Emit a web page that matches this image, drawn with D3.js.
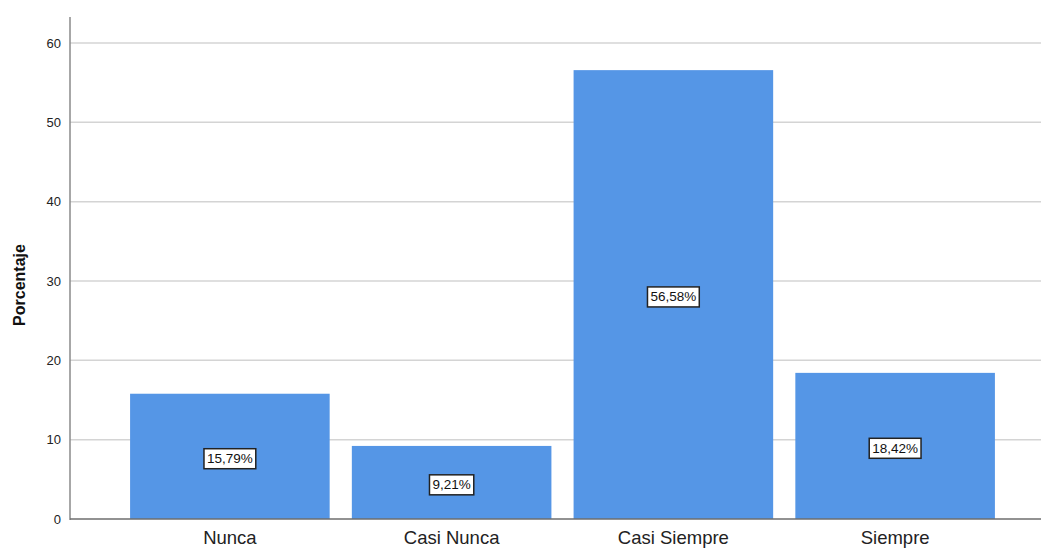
<!DOCTYPE html>
<html>
<head>
<meta charset="utf-8">
<script src="https://cdn.jsdelivr.net/npm/d3@7"></script>
<style>
  html, body { margin: 0; padding: 0; background: #fff; }
  svg { display: block; font-family: "Liberation Sans", Arial, sans-serif; }
</style>
</head>
<body>
<svg id="chart" width="1041" height="550"></svg>
<script>
// Frequency distribution (percent) by response category
const categories = ["Nunca", "Casi Nunca", "Casi Siempre", "Siempre"];
const percentages = [15.79, 9.21, 56.58, 18.42];
const yTicks = [0, 10, 20, 30, 40, 50, 60];

const svg = d3.select("#chart");
const axisX = 70, plotRight = 1041, plotTop = 17, baseY = 519;

const y = d3.scaleLinear().domain([0, 60]).range([baseY, 43]);
const x = d3.scaleBand().domain(categories).range([119, 1006])
  .paddingInner(0.1).paddingOuter(0.05);

// Horizontal gridlines
svg.append("g").selectAll("line").data(yTicks.filter(d => d > 0)).join("line")
  .attr("x1", axisX).attr("x2", plotRight)
  .attr("y1", d => y(d)).attr("y2", d => y(d))
  .attr("stroke", "#d4d4d4").attr("stroke-width", 1.5);

// Bars
svg.append("g").selectAll("rect").data(percentages).join("rect")
  .attr("x", (d, i) => x(categories[i]))
  .attr("width", x.bandwidth())
  .attr("y", d => y(d))
  .attr("height", d => baseY - y(d))
  .attr("fill", "#5596e6");

// Y axis
const yAxis = d3.axisLeft(y).tickValues(yTicks).tickSize(0).tickPadding(9);
const gy = svg.append("g").attr("transform", `translate(${axisX},0)`).call(yAxis);
gy.select(".domain").remove();
gy.selectAll("text").attr("font-size", 13).attr("fill", "#222")
  .attr("font-family", "Liberation Sans, Arial, sans-serif");
svg.append("line").attr("x1", axisX).attr("x2", axisX)
  .attr("y1", plotTop).attr("y2", baseY + 1)
  .attr("stroke", "#8a8a8a").attr("stroke-width", 1.5);

// X axis
const xAxis = d3.axisBottom(x).tickSize(0).tickPadding(12);
const gx = svg.append("g").attr("transform", `translate(0,${baseY})`).call(xAxis);
gx.select(".domain").remove();
gx.selectAll("text").attr("font-size", 18.5).attr("fill", "#222")
  .attr("font-family", "Liberation Sans, Arial, sans-serif");
svg.append("line").attr("x1", axisX).attr("x2", plotRight)
  .attr("y1", baseY).attr("y2", baseY)
  .attr("stroke", "#6e6e6e").attr("stroke-width", 1.5);

// Y axis title
svg.append("text")
  .attr("transform", `translate(25,${(43 + baseY) / 2 + 4}) rotate(-90)`)
  .attr("text-anchor", "middle")
  .attr("font-size", 16).attr("font-weight", "bold").attr("fill", "#111")
  .text("Porcentaje");

// Value labels in boxes at bar mid-height
const fmt = v => v.toFixed(2).replace(".", ",") + "%";
const lbl = svg.append("g").selectAll("g").data(percentages).join("g")
  .attr("transform", (d, i) => `translate(${x(categories[i]) + x.bandwidth() / 2},${y(d / 2) + 2})`);
lbl.append("text")
  .attr("text-anchor", "middle").attr("dy", "0.36em")
  .attr("font-size", 13.5).attr("fill", "#111")
  .text(fmt);
lbl.each(function () {
  const g = d3.select(this);
  const b = g.select("text").node().getBBox();
  g.insert("rect", "text")
    .attr("x", b.x - 3).attr("y", b.y - 2.5)
    .attr("width", b.width + 6).attr("height", b.height + 5)
    .attr("fill", "#fff").attr("stroke", "#222").attr("stroke-width", 1.5);
});
</script>
</body>
</html>
